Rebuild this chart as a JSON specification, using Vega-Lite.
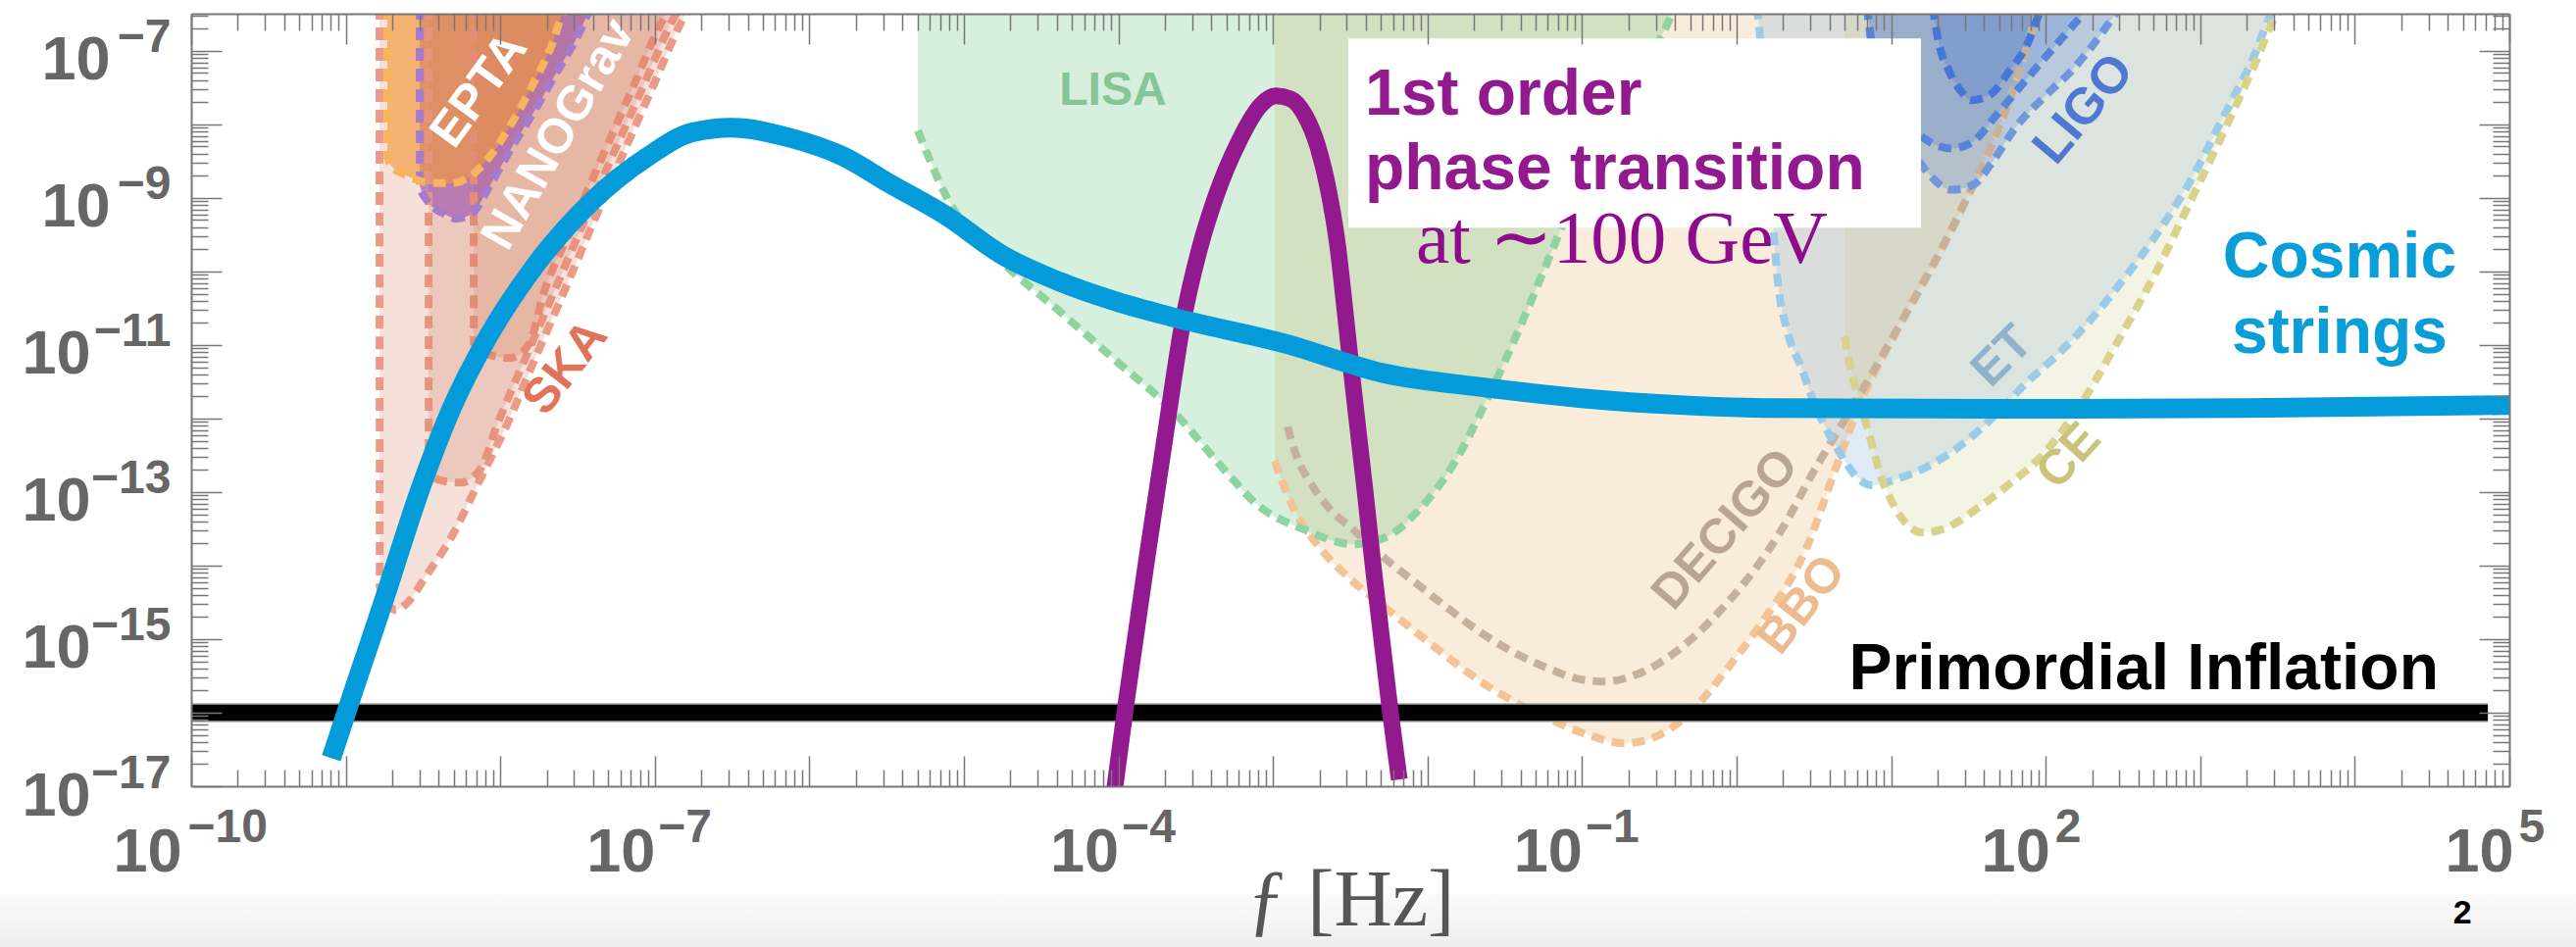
{
  "$schema": "https://vega.github.io/schema/vega-lite/v6.json",
  "width": 2364,
  "height": 788,
  "autosize": {"type": "none"},
  "padding": {"left": 195, "top": 14, "right": 68, "bottom": 164},
  "background": "white",
  "config": {"view": {"stroke": null}, "axis": {"grid": false, "labelFlush": false, "labelOverlap": false, "labelBound": false}},
  "datasets": {
    "cosmic": [
      {"f": 8.07e-10, "h": 2.415e-17}, {"f": 1.148e-9, "h": 2.275e-16}, {"f": 1.726e-9, "h": 2.911e-15},
      {"f": 3.097e-9, "h": 1.233e-13}, {"f": 4.797e-9, "h": 1.318e-12}, {"f": 8.241e-9, "h": 1.239e-11},
      {"f": 1.663e-8, "h": 1.167e-10}, {"f": 3.882e-8, "h": 8.851e-10},
      {"f": 8.933e-8, "h": 3.606e-9}, {"f": 1.746e-7, "h": 7.78e-9},
      {"f": 3.133e-7, "h": 9.057e-9}, {"f": 7.311e-7, "h": 6.668e-9}, {"f": 1.683e-6, "h": 3.606e-9},
      {"f": 3.296e-6, "h": 1.574e-9}, {"f": 7.691e-6, "h": 5.715e-10}, {"f": 1.77e-5, "h": 1.675e-10},
      {"f": 4.13e-5, "h": 7.311e-11}, {"f": 9.484e-5, "h": 3.954e-11}, {"f": 2.183e-4, "h": 2.421e-11},
      {"f": 1.172e-3, "h": 1.057e-11}, {"f": 5.358e-3, "h": 4.083e-12}, {"f": 2.307e-2, "h": 2.655e-12},
      {"f": 9.931e-2, "h": 1.892e-12}, {"f": 0.4285, "h": 1.528e-12}, {"f": 1.528, "h": 1.393e-12},
      {"f": 63.39, "h": 1.352e-12}, {"f": 1991, "h": 1.393e-12}, {"f": 100000, "h": 1.528e-12}
    ],
    "pt": [
      {"f": 9.484e-5, "h": 9.7e-18}, {"f": 1.114e-4, "h": 1.239e-16}, {"f": 1.56e-4, "h": 1.687e-14},
      {"f": 2.028e-4, "h": 6.714e-13}, {"f": 2.6e-4, "h": 1.963e-11}, {"f": 3.334e-4, "h": 1.963e-10},
      {"f": 4.276e-4, "h": 1.064e-9}, {"f": 5.984e-4, "h": 5.754e-9}, {"f": 8.375e-4, "h": 1.849e-8},
      {"f": 1.042e-3, "h": 2.438e-8}, {"f": 1.297e-3, "h": 2.223e-8}, {"f": 1.614e-3, "h": 1.318e-8},
      {"f": 1.954e-3, "h": 4.932e-9}, {"f": 2.291e-3, "h": 1.239e-9}, {"f": 2.618e-3, "h": 2.291e-10},
      {"f": 2.938e-3, "h": 2.673e-11}, {"f": 3.304e-3, "h": 2.673e-12}, {"f": 3.936e-3, "h": 1.064e-13},
      {"f": 4.487e-3, "h": 8.318e-15}, {"f": 5.754e-3, "h": 1.0e-16}, {"f": 6.561e-3, "h": 1.239e-17}
    ],
    "inflation": [{"f": 1e-10, "h": 1e-16}, {"f": 72600, "h": 1e-16}],
    "band": [{"f": 1e-12, "f2": 1e6, "h": 3.41e-19, "h2": 5e-20}],
    "lisa": [
      {"f": 5.035e-6, "h": 8.241e-9}, {"f": 7.691e-6, "h": 1.054e-9}, {"f": 1.77e-5, "h": 1.352e-10},
      {"f": 4.13e-5, "h": 2.911e-11}, {"f": 9.484e-5, "h": 6.266e-12}, {"f": 2.183e-4, "h": 1.352e-12},
      {"f": 5.093e-4, "h": 1.782e-13}, {"f": 7.674e-4, "h": 7.096e-14}, {"f": 1.592e-3, "h": 3.097e-14},
      {"f": 3.304e-3, "h": 1.954e-14}, {"f": 5.358e-3, "h": 2.421e-14}, {"f": 8.79e-3, "h": 5.715e-14},
      {"f": 1.426e-2, "h": 2.143e-13}, {"f": 2.553e-2, "h": 2.275e-12}, {"f": 6.607e-2, "h": 2.275e-10},
      {"f": 0.1186, "h": 4.909e-9}, {"f": 0.2123, "h": 4.207e-8}, {"f": 0.3811, "h": 3.289e-7},
      {"f": 0.42, "h": 6e-7}
    ],
    "decigo": [
      {"f": 1.242e-3, "h": 7.745e-13}, {"f": 1.435e-3, "h": 2.904e-13}, {"f": 1.762e-3, "h": 1.306e-13},
      {"f": 2.36e-3, "h": 5.715e-14}, {"f": 3.304e-3, "h": 3.097e-14}, {"f": 5.358e-3, "h": 1.233e-14},
      {"f": 8.79e-3, "h": 5.383e-15}, {"f": 1.426e-2, "h": 2.421e-15}, {"f": 2.307e-2, "h": 1.159e-15},
      {"f": 3.793e-2, "h": 6.266e-16}, {"f": 6.138e-2, "h": 3.954e-16}, {"f": 9.931e-2, "h": 2.825e-16},
      {"f": 0.1413, "h": 2.655e-16}, {"f": 0.2065, "h": 3.097e-16}, {"f": 0.3396, "h": 5.212e-16},
      {"f": 0.5495, "h": 1.159e-15}, {"f": 0.8892, "h": 3.289e-15}, {"f": 1.321, "h": 9.057e-15},
      {"f": 1.959, "h": 3.097e-14}, {"f": 3.17, "h": 1.954e-13}, {"f": 4.92, "h": 9.057e-13},
      {"f": 10.67, "h": 1.483e-11}, {"f": 28.38, "h": 6.871e-10}, {"f": 58.88, "h": 2.275e-8},
      {"f": 87.5, "h": 3.289e-7}, {"f": 92, "h": 5e-7}
    ],
    "bbo": [
      {"f": 1.026e-3, "h": 2.655e-13}, {"f": 1.138e-3, "h": 1.435e-13}, {"f": 1.374e-3, "h": 5.715e-14},
      {"f": 2.042e-3, "h": 1.675e-14}, {"f": 3.304e-3, "h": 6.081e-15}, {"f": 5.358e-3, "h": 2.655e-15},
      {"f": 8.79e-3, "h": 1.159e-15}, {"f": 1.426e-2, "h": 5.212e-16}, {"f": 2.307e-2, "h": 2.495e-16},
      {"f": 3.793e-2, "h": 1.352e-16}, {"f": 6.138e-2, "h": 8.26e-17}, {"f": 9.931e-2, "h": 5.383e-17},
      {"f": 0.1892, "h": 3.837e-17}, {"f": 0.3396, "h": 5.383e-17}, {"f": 0.5495, "h": 1.233e-16},
      {"f": 0.8892, "h": 4.207e-16}, {"f": 1.38, "h": 1.435e-15}, {"f": 2.864, "h": 1.837e-14},
      {"f": 4.436, "h": 2.275e-13}, {"f": 6.592, "h": 2.014e-12}, {"f": 10.67, "h": 1.483e-11},
      {"f": 28.38, "h": 6.871e-10}, {"f": 58.88, "h": 2.275e-8}, {"f": 87.5, "h": 3.289e-7},
      {"f": 92, "h": 5e-7}
    ],
    "et": [
      {"f": 1.358, "h": 3.981e-7}, {"f": 1.462, "h": 5.546e-8}, {"f": 1.528, "h": 6.081e-9},
      {"f": 1.69, "h": 6.871e-10}, {"f": 1.845, "h": 7.534e-11}, {"f": 2.138, "h": 1.483e-11},
      {"f": 2.624, "h": 4.909e-12}, {"f": 3.17, "h": 1.626e-12}, {"f": 4.064, "h": 5.546e-13},
      {"f": 4.92, "h": 2.825e-13}, {"f": 5.943, "h": 1.626e-13}, {"f": 7.621, "h": 1.233e-13},
      {"f": 10.67, "h": 1.483e-13}, {"f": 17.54, "h": 2.275e-13}, {"f": 28.38, "h": 4.335e-13},
      {"f": 45.92, "h": 1.057e-12}, {"f": 75.51, "h": 3.097e-12}, {"f": 122.5, "h": 7.78e-12},
      {"f": 198.2, "h": 2.275e-11}, {"f": 325.8, "h": 8.26e-11}, {"f": 527.2, "h": 3.289e-10},
      {"f": 853.1, "h": 1.626e-9}, {"f": 1403, "h": 1.233e-8}, {"f": 2275, "h": 9.354e-8},
      {"f": 2911, "h": 3.289e-7}, {"f": 3273, "h": 3.981e-7}
    ],
    "ce": [
      {"f": 4.989, "h": 1.303e-11}, {"f": 5.445, "h": 4.909e-12}, {"f": 6.295, "h": 1.626e-12},
      {"f": 7.295, "h": 5.546e-13}, {"f": 8.433, "h": 1.837e-13}, {"f": 9.772, "h": 8.531e-14},
      {"f": 11.8, "h": 4.335e-14}, {"f": 15.81, "h": 2.825e-14}, {"f": 22.13, "h": 3.192e-14},
      {"f": 36.39, "h": 6.081e-14}, {"f": 58.88, "h": 1.309e-13}, {"f": 95.5, "h": 3.192e-13},
      {"f": 156.7, "h": 1.233e-12}, {"f": 325.8, "h": 1.675e-11}, {"f": 527.2, "h": 1.057e-10},
      {"f": 853.1, "h": 8.531e-10}, {"f": 1403, "h": 7.534e-9}, {"f": 2275, "h": 6.871e-8},
      {"f": 3184, "h": 3.289e-7}, {"f": 3524, "h": 3.981e-7}
    ],
    "ligo1": [
      {"f": 18.58, "h": 3.981e-7}, {"f": 20.28, "h": 1.306e-7}, {"f": 23.5, "h": 5.534e-8},
      {"f": 28.38, "h": 2.812e-8}, {"f": 32.89, "h": 2.133e-8}, {"f": 43.95, "h": 2.564e-8},
      {"f": 58.88, "h": 5.534e-8}, {"f": 75.51, "h": 1.191e-7}, {"f": 91.41, "h": 3.289e-7},
      {"f": 95.5, "h": 3.981e-7}
    ],
    "ligo2": [
      {"f": 6.982, "h": 3.981e-7}, {"f": 7.621, "h": 9.484e-8}, {"f": 9.484, "h": 2.78e-8},
      {"f": 12.71, "h": 1.107e-8}, {"f": 16.52, "h": 6.368e-9}, {"f": 24.55, "h": 4.688e-9},
      {"f": 34.36, "h": 5.984e-9}, {"f": 47.32, "h": 1.291e-8}, {"f": 68.23, "h": 3.243e-8},
      {"f": 105.7, "h": 9.484e-8}, {"f": 176.2, "h": 3.289e-7}, {"f": 189.7, "h": 3.981e-7}
    ],
    "ligo3": [
      {"f": 6.95, "h": 3.981e-7}, {"f": 7.852, "h": 6.982e-8}, {"f": 10.21, "h": 1.503e-8},
      {"f": 13.68, "h": 4.406e-9}, {"f": 17.78, "h": 2.046e-9}, {"f": 24.55, "h": 1.291e-9},
      {"f": 33.81, "h": 1.503e-9}, {"f": 45.92, "h": 3.243e-9}, {"f": 63.39, "h": 8.933e-9},
      {"f": 98.17, "h": 2.382e-8}, {"f": 150, "h": 5.636e-8}, {"f": 219.3, "h": 1.503e-7},
      {"f": 285.8, "h": 3.289e-7}, {"f": 306.9, "h": 3.981e-7}
    ],
    "ska1": [
      {"f": 1.652e-9, "h": 3.981e-7}, {"f": 1.66e-9, "h": 5.2e-15}, {"f": 1.858e-9, "h": 3.083e-15},
      {"f": 2.113e-9, "h": 2.489e-15}, {"f": 2.415e-9, "h": 2.904e-15}, {"f": 3.381e-9, "h": 7.745e-15},
      {"f": 4.732e-9, "h": 2.27e-14}, {"f": 7.228e-9, "h": 1.346e-13}, {"f": 1.104e-8, "h": 8.241e-13},
      {"f": 1.663e-8, "h": 6.252e-12}, {"f": 2.541e-8, "h": 4.887e-11}, {"f": 3.819e-8, "h": 3.707e-10},
      {"f": 5.834e-8, "h": 2.904e-9}, {"f": 9.594e-8, "h": 3.083e-8}, {"f": 1.6e-7, "h": 3.281e-7},
      {"f": 1.698e-7, "h": 3.981e-7}
    ],
    "ska2": [
      {"f": 3.436e-9, "h": 3.981e-7}, {"f": 3.443e-9, "h": 1.945e-13}, {"f": 4.15e-9, "h": 1.432e-13},
      {"f": 5.559e-9, "h": 1.346e-13}, {"f": 7.447e-9, "h": 2.07e-13}, {"f": 9.55e-9, "h": 8.241e-13},
      {"f": 1.435e-8, "h": 6.252e-12}, {"f": 2.193e-8, "h": 4.887e-11}, {"f": 3.304e-8, "h": 3.707e-10},
      {"f": 5.047e-8, "h": 2.904e-9}, {"f": 8.299e-8, "h": 3.083e-8}, {"f": 1.384e-7, "h": 3.281e-7},
      {"f": 1.466e-7, "h": 3.981e-7}
    ],
    "ska3": [
      {"f": 6.714e-9, "h": 3.981e-7}, {"f": 6.745e-9, "h": 1.054e-11}, {"f": 8.61e-9, "h": 7.295e-12},
      {"f": 1.153e-8, "h": 6.653e-12}, {"f": 1.545e-8, "h": 1.054e-11}, {"f": 1.897e-8, "h": 4.887e-11},
      {"f": 2.858e-8, "h": 3.707e-10}, {"f": 4.365e-8, "h": 2.904e-9}, {"f": 7.161e-8, "h": 3.083e-8},
      {"f": 1.194e-7, "h": 3.281e-7}, {"f": 1.268e-7, "h": 3.981e-7}
    ],
    "epta": [
      {"f": 1.858e-9, "h": 3.981e-7}, {"f": 1.866e-9, "h": 3.597e-9}, {"f": 2.0e-9, "h": 2.655e-9},
      {"f": 2.415e-9, "h": 2.075e-9}, {"f": 3.381e-9, "h": 1.626e-9}, {"f": 4.732e-9, "h": 1.574e-9},
      {"f": 6.622e-9, "h": 2.075e-9}, {"f": 8.492e-9, "h": 3.597e-9}, {"f": 1.189e-8, "h": 1.054e-8},
      {"f": 1.663e-8, "h": 3.837e-8}, {"f": 2.163e-8, "h": 1.233e-7}, {"f": 2.541e-8, "h": 3.289e-7},
      {"f": 2.655e-8, "h": 3.981e-7}
    ],
    "nanograv": [
      {"f": 3.006e-9, "h": 3.981e-7}, {"f": 3.02e-9, "h": 1.435e-9}, {"f": 3.381e-9, "h": 9.057e-10},
      {"f": 4.335e-9, "h": 6.081e-10}, {"f": 5.164e-9, "h": 5.212e-10}, {"f": 6.622e-9, "h": 6.266e-10},
      {"f": 8.492e-9, "h": 1.435e-9}, {"f": 1.189e-8, "h": 4.909e-9}, {"f": 1.663e-8, "h": 1.528e-8},
      {"f": 2.328e-8, "h": 5.212e-8}, {"f": 3.258e-8, "h": 1.782e-7}, {"f": 3.715e-8, "h": 3.289e-7},
      {"f": 3.936e-8, "h": 3.981e-7}
    ],
    "box": [{"f": 3.069e-3, "f2": 15.6, "h": 1.476e-7, "h2": 3.945e-10}],
    "labels": [
      {"label": "EPTA", "f": 7.328e-9, "h": 2.904e-8},
      {"label": "NANOGrav", "f": 2.393e-8, "h": 7.295e-9},
      {"label": "SKA", "f": 2.655e-8, "h": 4.887e-12},
      {"label": "LISA", "f": 9.204e-5, "h": 1.832e-8},
      {"label": "DECIGO", "f": 0.851, "h": 3.083e-14},
      {"label": "BBO", "f": 2.661, "h": 2.904e-15},
      {"label": "ET", "f": 52.48, "h": 7.0e-12},
      {"label": "CE", "f": 141.6, "h": 3.083e-13},
      {"label": "LIGO", "f": 176.2, "h": 1.618e-8},
      {"label": "1st order", "f": 3.936e-3, "h": 1.346e-8},
      {"label": "phase transition", "f": 3.936e-3, "h": 1.306e-9},
      {"label": "at ∼100 GeV", "f": 8.414e-3, "h": 1.306e-10},
      {"label": "Cosmic", "f": 7980, "h": 8.241e-11},
      {"label": "strings", "f": 7980, "h": 7.745e-12},
      {"label": "Primordial Inflation", "f": 34910, "h": 2.07e-16},
      {"label": "2", "f": 49660, "h": 1.346e-19}
    ]
  },
  "layer": [
    {
      "encoding": {
        "x": {"field": "f", "type": "quantitative",
          "scale": {"type": "log", "domain": [1e-10, 100000], "nice": false},
          "axis": {"orient": "bottom", "zindex": 1, "labels": false, "domain": true, "domainColor": "#777777", "domainWidth": 2,
            "ticks": true, "tickColor": "#777777", "tickWidth": 1.5,
            "tickSize": {"condition": {"test": "abs(log(datum.value)/LN10-round(log(datum.value)/LN10))<0.001", "value": -31}, "value": -17},
            "values": [1e-10,2e-10,3e-10,4e-10,5e-10,6e-10,7e-10,8e-10,9e-10,1e-9,2e-9,3e-9,4e-9,5e-9,6e-9,7e-9,8e-9,9e-9,1e-8,2e-8,3e-8,4e-8,5e-8,6e-8,7e-8,8e-8,9e-8,1e-7,2e-7,3e-7,4e-7,5e-7,6e-7,7e-7,8e-7,9e-7,1e-6,2e-6,3e-6,4e-6,5e-6,6e-6,7e-6,8e-6,9e-6,1e-5,2e-5,3e-5,4e-5,5e-5,6e-5,7e-5,8e-5,9e-5,1e-4,2e-4,3e-4,4e-4,5e-4,6e-4,7e-4,8e-4,9e-4,0.001,0.002,0.003,0.004,0.005,0.006,0.007,0.008,0.009,0.01,0.02,0.03,0.04,0.05,0.06,0.07,0.08,0.09,0.1,0.2,0.3,0.4,0.5,0.6,0.7,0.8,0.9,1,2,3,4,5,6,7,8,9,10,20,30,40,50,60,70,80,90,100,200,300,400,500,600,700,800,900,1000,2000,3000,4000,5000,6000,7000,8000,9000,10000,20000,30000,40000,50000,60000,70000,80000,90000,100000],
            "title": "ƒ [Hz]", "titleFont": "Liberation Serif", "titleFontSize": 82, "titleFontWeight": "normal", "titleColor": "#555555", "titleBaseline": "alphabetic", "titlePadding": 141}},
        "y": {"field": "h", "type": "quantitative",
          "scale": {"type": "log", "domain": [1e-17, 3.2e-7], "nice": false},
          "axis": {"orient": "left", "zindex": 1, "labels": false, "domain": true, "domainColor": "#777777", "domainWidth": 2,
            "ticks": true, "tickColor": "#777777", "tickWidth": 1.5,
            "tickSize": {"condition": {"test": "abs(log(datum.value)/LN10-round(log(datum.value)/LN10))<0.001", "value": -31}, "value": -17},
            "values": [1e-17,2e-17,3e-17,4e-17,5e-17,6e-17,7e-17,8e-17,9e-17,1e-16,2e-16,3e-16,4e-16,5e-16,6e-16,7e-16,8e-16,9e-16,1e-15,2e-15,3e-15,4e-15,5e-15,6e-15,7e-15,8e-15,9e-15,1e-14,2e-14,3e-14,4e-14,5e-14,6e-14,7e-14,8e-14,9e-14,1e-13,2e-13,3e-13,4e-13,5e-13,6e-13,7e-13,8e-13,9e-13,1e-12,2e-12,3e-12,4e-12,5e-12,6e-12,7e-12,8e-12,9e-12,1e-11,2e-11,3e-11,4e-11,5e-11,6e-11,7e-11,8e-11,9e-11,1e-10,2e-10,3e-10,4e-10,5e-10,6e-10,7e-10,8e-10,9e-10,1e-9,2e-9,3e-9,4e-9,5e-9,6e-9,7e-9,8e-9,9e-9,1e-8,2e-8,3e-8,4e-8,5e-8,6e-8,7e-8,8e-8,9e-8,1e-7,2e-7,3e-7],
            "title": null}}
      },
      "layer": [
        {"data": {"name": "band"}, "mark": {"type": "rect", "clip": false, "color": {"gradient": "linear", "x1": 0, "y1": 0, "x2": 0, "y2": 1, "stops": [{"offset": 0, "color": "#fbfbfb"}, {"offset": 0.55, "color": "#f3f3f3"}, {"offset": 1, "color": "#eaeaea"}]}}, "encoding": {"x2": {"field": "f2"}, "y2": {"field": "h2"}}},

        {"data": {"name": "bbo"}, "mark": {"type": "area", "interpolate": "monotone", "clip": true, "color": "#eec48f", "opacity": 0.33}, "encoding": {"y2": {"datum": 1e-6}}},
        {"data": {"name": "lisa"}, "mark": {"type": "area", "interpolate": "monotone", "clip": true, "color": "#5fbf78", "opacity": 0.25}, "encoding": {"y2": {"datum": 1e-6}}},
        {"data": {"name": "et"}, "mark": {"type": "area", "interpolate": "monotone", "clip": true, "color": "#8cb4e6", "opacity": 0.27}, "encoding": {"y2": {"datum": 1e-6}}},
        {"data": {"name": "ce"}, "mark": {"type": "area", "interpolate": "monotone", "clip": true, "color": "#c8c878", "opacity": 0.2}, "encoding": {"y2": {"datum": 1e-6}}},
        {"data": {"name": "ligo3"}, "mark": {"type": "area", "interpolate": "monotone", "clip": true, "color": "#3c6ed2", "opacity": 0.22}, "encoding": {"y2": {"datum": 1e-6}}},
        {"data": {"name": "ligo2"}, "mark": {"type": "area", "interpolate": "monotone", "clip": true, "color": "#3c6ed2", "opacity": 0.22}, "encoding": {"y2": {"datum": 1e-6}}},
        {"data": {"name": "ligo1"}, "mark": {"type": "area", "interpolate": "monotone", "clip": true, "color": "#3c6ed2", "opacity": 0.25}, "encoding": {"y2": {"datum": 1e-6}}},
        {"data": {"name": "ska1"}, "mark": {"type": "area", "interpolate": "monotone", "clip": true, "color": "#d17757", "opacity": 0.22}, "encoding": {"y2": {"datum": 1e-6}}},
        {"data": {"name": "ska2"}, "mark": {"type": "area", "interpolate": "monotone", "clip": true, "color": "#d17757", "opacity": 0.22}, "encoding": {"y2": {"datum": 1e-6}}},
        {"data": {"name": "ska3"}, "mark": {"type": "area", "interpolate": "monotone", "clip": true, "color": "#d17757", "opacity": 0.22}, "encoding": {"y2": {"datum": 1e-6}}},
        {"data": {"name": "nanograv"}, "mark": {"type": "area", "interpolate": "monotone", "clip": true, "color": "#8c3caa", "opacity": 0.55}, "encoding": {"y2": {"datum": 1e-6}}},
        {"data": {"name": "epta"}, "mark": {"type": "area", "interpolate": "monotone", "clip": true, "color": "#f29a3a", "opacity": 0.65}, "encoding": {"y2": {"datum": 1e-6}}},

        {"data": {"name": "bbo"}, "mark": {"type": "line", "interpolate": "monotone", "clip": true, "color": "#f3c396", "strokeWidth": 8, "strokeDash": [13, 8]}, "encoding": {}},
        {"data": {"name": "decigo"}, "mark": {"type": "line", "interpolate": "monotone", "clip": true, "color": "#c6b29c", "strokeWidth": 8, "strokeDash": [13, 8]}, "encoding": {}},
        {"data": {"name": "lisa"}, "mark": {"type": "line", "interpolate": "monotone", "clip": true, "color": "#8fd3a0", "strokeWidth": 8, "strokeDash": [13, 8]}, "encoding": {}},
        {"data": {"name": "et"}, "mark": {"type": "line", "interpolate": "monotone", "clip": true, "color": "#9ccbe9", "strokeWidth": 8, "strokeDash": [13, 8]}, "encoding": {}},
        {"data": {"name": "ce"}, "mark": {"type": "line", "interpolate": "monotone", "clip": true, "color": "#d8d28a", "strokeWidth": 8, "strokeDash": [13, 8]}, "encoding": {}},
        {"data": {"name": "ligo3"}, "mark": {"type": "line", "interpolate": "monotone", "clip": true, "color": "#7097dc", "strokeWidth": 8, "strokeDash": [13, 8]}, "encoding": {}},
        {"data": {"name": "ligo2"}, "mark": {"type": "line", "interpolate": "monotone", "clip": true, "color": "#5584d8", "strokeWidth": 8, "strokeDash": [13, 8]}, "encoding": {}},
        {"data": {"name": "ligo1"}, "mark": {"type": "line", "interpolate": "monotone", "clip": true, "color": "#4677d6", "strokeWidth": 8, "strokeDash": [13, 8]}, "encoding": {}},
        {"data": {"name": "ska1"}, "mark": {"type": "line", "interpolate": "monotone", "clip": true, "color": "#ea9a86", "strokeWidth": 8, "strokeDash": [13, 8]}, "encoding": {}},
        {"data": {"name": "ska2"}, "mark": {"type": "line", "interpolate": "monotone", "clip": true, "color": "#e8937e", "strokeWidth": 8, "strokeDash": [13, 8]}, "encoding": {}},
        {"data": {"name": "ska3"}, "mark": {"type": "line", "interpolate": "monotone", "clip": true, "color": "#e58c76", "strokeWidth": 8, "strokeDash": [13, 8]}, "encoding": {}},
        {"data": {"name": "nanograv"}, "mark": {"type": "line", "interpolate": "monotone", "clip": true, "color": "#a77bcb", "strokeWidth": 8, "strokeDash": [13, 8]}, "encoding": {}},
        {"data": {"name": "epta"}, "mark": {"type": "line", "interpolate": "monotone", "clip": true, "color": "#f6b45c", "strokeWidth": 8, "strokeDash": [13, 8]}, "encoding": {}},

        {"data": {"name": "labels"}, "transform": [{"filter": "datum.label === 'EPTA'"}], "mark": {"type": "text", "font": "Liberation Sans", "fontWeight": "bold", "fontSize": 50, "color": "#ffffff", "angle": 306, "align": "center", "baseline": "middle"}, "encoding": {"text": {"field": "label"}}},
        {"data": {"name": "labels"}, "transform": [{"filter": "datum.label === 'NANOGrav'"}], "mark": {"type": "text", "clip": true, "font": "Liberation Sans", "fontWeight": "bold", "fontSize": 50, "color": "#ffffff", "angle": 300, "align": "center", "baseline": "middle"}, "encoding": {"text": {"field": "label"}}},
        {"data": {"name": "labels"}, "transform": [{"filter": "datum.label === 'SKA'"}], "mark": {"type": "text", "font": "Liberation Sans", "fontWeight": "bold", "fontSize": 50, "color": "#e0735a", "angle": 308, "align": "center", "baseline": "middle"}, "encoding": {"text": {"field": "label"}}},
        {"data": {"name": "labels"}, "transform": [{"filter": "datum.label === 'LISA'"}], "mark": {"type": "text", "font": "Liberation Sans", "fontWeight": "bold", "fontSize": 48, "color": "#86c597", "align": "center", "baseline": "alphabetic"}, "encoding": {"text": {"field": "label"}}},
        {"data": {"name": "labels"}, "transform": [{"filter": "datum.label === 'DECIGO'"}], "mark": {"type": "text", "font": "Liberation Sans", "fontWeight": "bold", "fontSize": 50, "color": "#b9a591", "angle": 311, "align": "center", "baseline": "middle"}, "encoding": {"text": {"field": "label"}}},
        {"data": {"name": "labels"}, "transform": [{"filter": "datum.label === 'BBO'"}], "mark": {"type": "text", "font": "Liberation Sans", "fontWeight": "bold", "fontSize": 50, "color": "#eebb90", "angle": 308, "align": "center", "baseline": "middle"}, "encoding": {"text": {"field": "label"}}},
        {"data": {"name": "labels"}, "transform": [{"filter": "datum.label === 'ET'"}], "mark": {"type": "text", "font": "Liberation Sans", "fontWeight": "bold", "fontSize": 50, "color": "#8fb3cc", "angle": 315, "align": "center", "baseline": "middle"}, "encoding": {"text": {"field": "label"}}},
        {"data": {"name": "labels"}, "transform": [{"filter": "datum.label === 'CE'"}], "mark": {"type": "text", "font": "Liberation Sans", "fontWeight": "bold", "fontSize": 50, "color": "#c9c37c", "angle": 312, "align": "center", "baseline": "middle"}, "encoding": {"text": {"field": "label"}}},
        {"data": {"name": "labels"}, "transform": [{"filter": "datum.label === 'LIGO'"}], "mark": {"type": "text", "font": "Liberation Sans", "fontWeight": "bold", "fontSize": 52, "color": "#4f78d2", "angle": 310, "align": "center", "baseline": "middle"}, "encoding": {"text": {"field": "label"}}},

        {"data": {"name": "box"}, "mark": {"type": "rect", "color": "#ffffff", "opacity": 1}, "encoding": {"x2": {"field": "f2"}, "y2": {"field": "h2"}}},
        {"data": {"name": "labels"}, "transform": [{"filter": "datum.label === '1st order' || datum.label === 'phase transition'"}], "mark": {"type": "text", "font": "Liberation Sans", "fontWeight": "bold", "fontSize": 66, "color": "#921a8e", "align": "left", "baseline": "alphabetic"}, "encoding": {"text": {"field": "label"}}},
        {"data": {"name": "labels"}, "transform": [{"filter": "datum.label === 'at ∼100 GeV'"}], "mark": {"type": "text", "font": "Liberation Serif", "fontSize": 77, "color": "#8e0b8c", "align": "left", "baseline": "alphabetic"}, "encoding": {"text": {"field": "label"}}},

        {"data": {"name": "inflation"}, "mark": {"type": "line", "clip": true, "color": "#808080", "strokeWidth": 19}, "encoding": {}},
        {"data": {"name": "inflation"}, "mark": {"type": "line", "clip": true, "color": "#000000", "strokeWidth": 16}, "encoding": {}},
        {"data": {"name": "pt"}, "mark": {"type": "line", "interpolate": "monotone", "clip": true, "color": "#921a8e", "strokeWidth": 17}, "encoding": {}},
        {"data": {"name": "cosmic"}, "mark": {"type": "line", "interpolate": "monotone", "clip": true, "color": "#039bd9", "strokeWidth": 20}, "encoding": {}},

        {"data": {"name": "labels"}, "transform": [{"filter": "datum.label === 'Cosmic' || datum.label === 'strings'"}], "mark": {"type": "text", "font": "Liberation Sans", "fontWeight": "bold", "fontSize": 66, "color": "#0a9ed9", "align": "center", "baseline": "alphabetic"}, "encoding": {"text": {"field": "label"}}},
        {"data": {"name": "labels"}, "transform": [{"filter": "datum.label === 'Primordial Inflation'"}], "mark": {"type": "text", "font": "Liberation Sans", "fontWeight": "bold", "fontSize": 66, "color": "#000000", "align": "right", "baseline": "alphabetic"}, "encoding": {"text": {"field": "label"}}},
        {"data": {"name": "labels"}, "transform": [{"filter": "datum.label === '2'"}], "mark": {"type": "text", "font": "Liberation Sans", "fontWeight": "bold", "fontSize": 34, "color": "#000000", "align": "center", "baseline": "alphabetic"}, "encoding": {"text": {"field": "label"}}}
      ]
    },
    {
      "data": {"name": "inflation"},
      "mark": {"type": "point", "opacity": 0},
      "encoding": {
        "x": {"field": "f", "type": "quantitative", "scale": {"type": "log", "domain": [1e-10, 100000], "nice": false},
          "axis": {"orient": "bottom", "values": [1e-10, 1e-7, 1e-4, 0.1, 100, 100000], "labelExpr": "'10'", "domain": false, "ticks": false, "title": null,
            "labelFont": "Liberation Sans", "labelFontWeight": "bold", "labelFontSize": 63, "labelColor": "#666666",
            "labelAlign": "right", "labelBaseline": "alphabetic", "labelPadding": 86,
            "labelOffset": {"condition": [{"test": "datum.value < 1e-9", "value": -10}, {"test": "datum.value > 1", "value": 4}], "value": 0}}},
        "y": {"field": "h", "type": "quantitative", "scale": {"type": "log", "domain": [1e-17, 3.2e-7], "nice": false},
          "axis": {"orient": "left", "values": [1e-17, 1e-15, 1e-13, 1e-11, 1e-9, 1e-7], "labelExpr": "'10'", "domain": false, "ticks": false, "title": null,
            "labelFont": "Liberation Sans", "labelFontWeight": "bold", "labelFontSize": 63, "labelColor": "#666666",
            "labelAlign": "right", "labelBaseline": "alphabetic", "labelOffset": 29,
            "labelPadding": {"condition": {"test": "datum.value > 1e-10", "value": 83}, "value": 103}}}
      }
    },
    {
      "data": {"name": "inflation"},
      "mark": {"type": "point", "opacity": 0},
      "encoding": {
        "x": {"field": "f", "type": "quantitative", "scale": {"type": "log", "domain": [1e-10, 100000], "nice": false},
          "axis": {"orient": "bottom", "values": [1e-10, 1e-7, 1e-4, 0.1, 100, 100000], "labelExpr": "replace(format(round(log(datum.value)/LN10),'d'),'-','−')", "domain": false, "ticks": false, "title": null,
            "labelFont": "Liberation Sans", "labelFontWeight": "bold", "labelFontSize": 48, "labelColor": "#666666",
            "labelAlign": "left", "labelBaseline": "alphabetic", "labelPadding": 56,
            "labelOffset": {"condition": [{"test": "datum.value < 1e-9", "value": -4}, {"test": "datum.value > 1", "value": 9}], "value": 3}}},
        "y": {"field": "h", "type": "quantitative", "scale": {"type": "log", "domain": [1e-17, 3.2e-7], "nice": false},
          "axis": {"orient": "left", "values": [1e-17, 1e-15, 1e-13, 1e-11, 1e-9, 1e-7], "labelExpr": "replace(format(round(log(datum.value)/LN10),'d'),'-','−')", "domain": false, "ticks": false, "title": null,
            "labelFont": "Liberation Sans", "labelFontWeight": "bold", "labelFontSize": 48, "labelColor": "#666666",
            "labelAlign": "right", "labelBaseline": "alphabetic", "labelOffset": 1, "labelPadding": 21}}
      }
    },
    {
      "data": {"name": "inflation"},
      "mark": {"type": "point", "opacity": 0},
      "encoding": {
        "x": {"field": "f", "type": "quantitative", "scale": {"type": "log", "domain": [1e-10, 100000], "nice": false},
          "axis": {"orient": "top", "zindex": 1, "labels": false, "domain": true, "domainColor": "#777777", "domainWidth": 2, "title": null,
            "ticks": true, "tickColor": "#777777", "tickWidth": 1.5,
            "tickSize": {"condition": {"test": "abs(log(datum.value)/LN10-round(log(datum.value)/LN10))<0.001", "value": -31}, "value": -17},
            "values": [1e-10,2e-10,3e-10,4e-10,5e-10,6e-10,7e-10,8e-10,9e-10,1e-9,2e-9,3e-9,4e-9,5e-9,6e-9,7e-9,8e-9,9e-9,1e-8,2e-8,3e-8,4e-8,5e-8,6e-8,7e-8,8e-8,9e-8,1e-7,2e-7,3e-7,4e-7,5e-7,6e-7,7e-7,8e-7,9e-7,1e-6,2e-6,3e-6,4e-6,5e-6,6e-6,7e-6,8e-6,9e-6,1e-5,2e-5,3e-5,4e-5,5e-5,6e-5,7e-5,8e-5,9e-5,1e-4,2e-4,3e-4,4e-4,5e-4,6e-4,7e-4,8e-4,9e-4,0.001,0.002,0.003,0.004,0.005,0.006,0.007,0.008,0.009,0.01,0.02,0.03,0.04,0.05,0.06,0.07,0.08,0.09,0.1,0.2,0.3,0.4,0.5,0.6,0.7,0.8,0.9,1,2,3,4,5,6,7,8,9,10,20,30,40,50,60,70,80,90,100,200,300,400,500,600,700,800,900,1000,2000,3000,4000,5000,6000,7000,8000,9000,10000,20000,30000,40000,50000,60000,70000,80000,90000,100000]}},
        "y": {"field": "h", "type": "quantitative", "scale": {"type": "log", "domain": [1e-17, 3.2e-7], "nice": false},
          "axis": {"orient": "right", "zindex": 1, "labels": false, "domain": true, "domainColor": "#777777", "domainWidth": 2, "title": null,
            "ticks": true, "tickColor": "#777777", "tickWidth": 1.5,
            "tickSize": {"condition": {"test": "abs(log(datum.value)/LN10-round(log(datum.value)/LN10))<0.001", "value": -31}, "value": -17},
            "values": [1e-17,2e-17,3e-17,4e-17,5e-17,6e-17,7e-17,8e-17,9e-17,1e-16,2e-16,3e-16,4e-16,5e-16,6e-16,7e-16,8e-16,9e-16,1e-15,2e-15,3e-15,4e-15,5e-15,6e-15,7e-15,8e-15,9e-15,1e-14,2e-14,3e-14,4e-14,5e-14,6e-14,7e-14,8e-14,9e-14,1e-13,2e-13,3e-13,4e-13,5e-13,6e-13,7e-13,8e-13,9e-13,1e-12,2e-12,3e-12,4e-12,5e-12,6e-12,7e-12,8e-12,9e-12,1e-11,2e-11,3e-11,4e-11,5e-11,6e-11,7e-11,8e-11,9e-11,1e-10,2e-10,3e-10,4e-10,5e-10,6e-10,7e-10,8e-10,9e-10,1e-9,2e-9,3e-9,4e-9,5e-9,6e-9,7e-9,8e-9,9e-9,1e-8,2e-8,3e-8,4e-8,5e-8,6e-8,7e-8,8e-8,9e-8,1e-7,2e-7,3e-7]}}
      }
    }
  ],
  "resolve": {"axis": {"x": "independent", "y": "independent"}}
}
